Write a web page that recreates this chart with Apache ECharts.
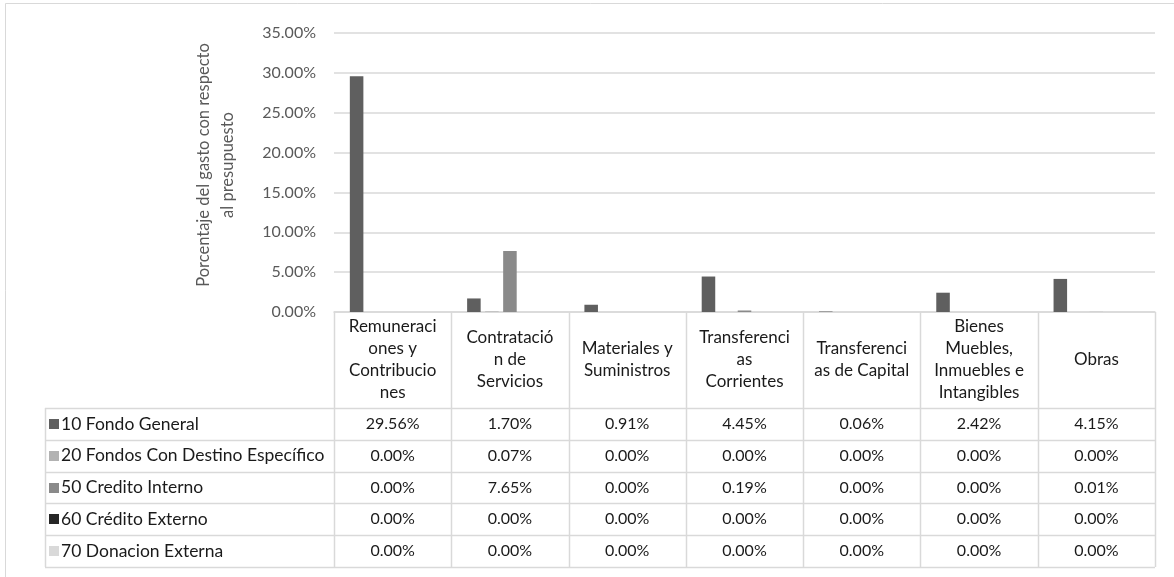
<!DOCTYPE html>
<html>
<head>
<meta charset="utf-8">
<title>Porcentaje del gasto con respecto al presupuesto</title>
<script src="https://cdn.jsdelivr.net/npm/echarts@6/dist/echarts.min.js"></script>
<style>
  html, body { margin: 0; padding: 0; background: #ffffff; }
  #chart { width: 1174px; height: 577px; }
</style>
</head>
<body>
<div id="chart"></div>
<script>
// Spending categories (header lines wrap as in the data table cells)
const categories = [
  'Remuneraci\nones y\nContribucio\nnes',
  'Contratació\nn de\nServicios',
  'Materiales y\nSuministros',
  'Transferenci\nas\nCorrientes',
  'Transferenci\nas de Capital',
  'Bienes\nMuebles,\nInmuebles e\nIntangibles',
  'Obras'
];

// Funding sources
const seriesNames = [
  '10 Fondo General',
  '20 Fondos Con Destino Específico',
  '50 Credito Interno',
  '60 Crédito Externo',
  '70 Donacion Externa'
];

// Percentage of spending relative to budget, per category
const fondoGeneral    = [29.56, 1.70, 0.91, 4.45, 0.06, 2.42, 4.15];
const fondosDestino   = [0.00, 0.07, 0.00, 0.00, 0.00, 0.00, 0.00];
const creditoInterno  = [0.00, 7.65, 0.00, 0.19, 0.00, 0.00, 0.01];
const creditoExterno  = [0.00, 0.00, 0.00, 0.00, 0.00, 0.00, 0.00];
const donacionExterna = [0.00, 0.00, 0.00, 0.00, 0.00, 0.00, 0.00];

// Value axis range
const yMin = 0;
const yMax = 35;
const yStep = 5;

const seriesValues = [fondoGeneral, fondosDestino, creditoInterno, creditoExterno, donacionExterna];
const seriesColors = ['#5f5f5f', '#b2b2b2', '#8a8a8a', '#262626', '#d9d9d9'];

const FONT = 'Lato, "Open Sans", sans-serif';
const LINE = '#d9d9d9';
const TEXT = '#1a1a1a';

// Layout of plot and data table
const W = 1174;
const gridLeft = 334;
const gridRight = 19;
const gridTop = 33;
const gridBottomY = 312;
const headerBottom = 408;
const rowH = 31.8;
const tableLeft = 45;
const tableRight = W - gridRight;
const colW = (tableRight - gridLeft) / categories.length;

const chart = echarts.init(document.getElementById('chart'), null, { renderer: 'canvas' });

const fmt = v => v.toFixed(2) + '%';

// Data table: borders, legend keys, value cells
const graphics = [];
graphics.push({
  type: 'rect',
  shape: { x: 5.5, y: 3.5, width: 1200, height: 620 },
  style: { fill: null, stroke: LINE, lineWidth: 1 },
  silent: true
});
const rows = seriesNames.length;
const tableBottom = headerBottom + rows * rowH;
// horizontal rules
for (let r = 0; r <= rows; r++) {
  const y = Math.round(headerBottom + r * rowH) + 0.5;
  graphics.push({
    type: 'line',
    shape: { x1: tableLeft, y1: y, x2: tableRight, y2: y },
    style: { stroke: LINE, lineWidth: 1.5 },
    silent: true
  });
}
// vertical rules
graphics.push({
  type: 'line',
  shape: { x1: tableLeft + 0.5, y1: headerBottom, x2: tableLeft + 0.5, y2: tableBottom },
  style: { stroke: LINE, lineWidth: 1.5 },
  silent: true
});
for (let c = 0; c <= categories.length; c++) {
  const x = Math.round(gridLeft + c * colW) + 0.5;
  graphics.push({
    type: 'line',
    shape: { x1: x, y1: gridBottomY, x2: x, y2: tableBottom },
    style: { stroke: LINE, lineWidth: 1.5 },
    silent: true
  });
}
// row labels with colour keys, then the values
seriesNames.forEach((name, r) => {
  const cy = headerBottom + (r + 0.5) * rowH;
  graphics.push({
    type: 'rect',
    shape: { x: tableLeft + 4, y: Math.round(cy - 5), width: 10, height: 10 },
    style: { fill: seriesColors[r] },
    silent: true
  });
  graphics.push({
    type: 'text',
    x: tableLeft + 16,
    y: cy,
    style: { text: name, font: '17.5px ' + FONT, fill: TEXT, align: 'left', verticalAlign: 'middle' },
    silent: true
  });
  seriesValues[r].forEach((v, c) => {
    graphics.push({
      type: 'text',
      x: gridLeft + (c + 0.5) * colW,
      y: cy,
      style: { text: fmt(v), font: '16px ' + FONT, fill: TEXT, align: 'center', verticalAlign: 'middle' },
      silent: true
    });
  });
});
// value axis title
graphics.push({
  type: 'text',
  x: 216,
  y: 165,
  rotation: Math.PI / 2,
  style: {
    text: 'Porcentaje del gasto con respecto\nal presupuesto',
    font: '16.5px ' + FONT,
    fill: '#595959',
    align: 'center',
    verticalAlign: 'middle',
    lineHeight: 24
  },
  silent: true
});

chart.setOption({
  animation: false,
  backgroundColor: '#ffffff',
  grid: {
    left: gridLeft,
    right: gridRight,
    top: gridTop,
    height: gridBottomY - gridTop,
    containLabel: false
  },
  xAxis: {
    type: 'category',
    data: categories,
    boundaryGap: true,
    axisLine: { show: true, lineStyle: { color: LINE, width: 1.5 } },
    axisTick: { show: false },
    axisLabel: {
      interval: 0,
      margin: (headerBottom - gridBottomY) / 2,
      verticalAlign: 'middle',
      align: 'center',
      lineHeight: 22,
      fontFamily: FONT,
      fontSize: 17,
      color: TEXT
    }
  },
  yAxis: {
    type: 'value',
    min: yMin,
    max: yMax,
    interval: yStep,
    axisLine: { show: false },
    axisTick: { show: false },
    axisLabel: {
      margin: 18,
      fontFamily: FONT,
      fontSize: 16,
      color: '#595959',
      formatter: v => fmt(v)
    },
    splitLine: { lineStyle: { color: LINE, width: 1.5 } }
  },
  series: seriesNames.map((name, i) => ({
    name: name,
    type: 'bar',
    data: seriesValues[i],
    barGap: '33%',
    barCategoryGap: '27%',
    itemStyle: { color: seriesColors[i] },
    silent: true
  })),
  graphic: graphics
});
</script>
</body>
</html>
